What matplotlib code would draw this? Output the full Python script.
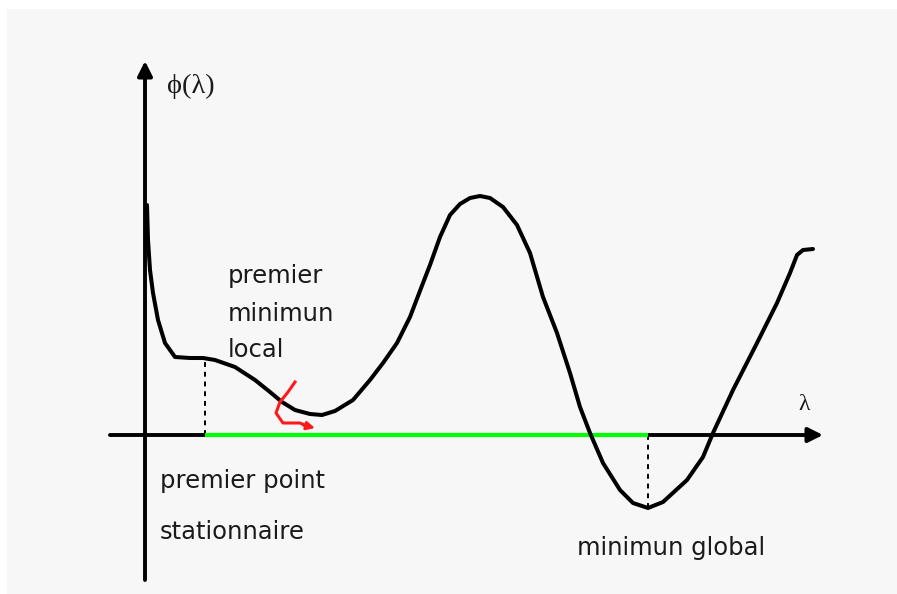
import matplotlib
matplotlib.use("Agg")
import matplotlib.pyplot as plt
from matplotlib.patches import Rectangle

# phi(lambda) sketch: lambda along x, phi along y, origin where the axes cross
lam = [2, 3, 5, 8, 13, 20, 30, 45, 58, 70, 90, 110, 125, 137, 150, 165, 177,
       190, 208, 225, 238, 252, 265, 278, 285, 295, 305, 315, 325, 335, 345,
       358, 372, 385, 398, 412, 425, 435, 445, 458, 475, 488, 503, 518, 542,
       558, 568, 588, 612, 632, 645, 652, 658, 668]
phi = [230, 195, 165, 142, 115, 92, 78, 77, 77, 75, 68, 55, 43, 33, 25, 21, 20,
       24, 35, 55, 72, 92, 118, 152, 170, 198, 220, 231, 237, 239, 237, 228,
       210, 182, 138, 102, 62, 28, 2, -28, -55, -68, -73, -67, -45, -22, 2,
       45, 92, 132, 162, 180, 185, 186]

stationary_lam = 60    # premier point stationnaire
stationary_phi = 77
global_min_lam = 503   # minimun global
global_min_phi = -73

# red hand-drawn hint near the first local minimum
hint_lam = [150, 143, 135, 131, 138, 155, 162]
hint_phi = [53, 43, 33, 22, 12, 12, 9]

fig = plt.figure(figsize=(8.97, 5.94), dpi=100, facecolor="white")
ax = fig.add_axes([0, 0, 1, 1])
ax.set_xlim(-145, 752)
ax.set_ylim(-159, 435)
ax.axis("off")

ax.add_patch(Rectangle((-138, -159), 890, 585, facecolor="#f7f7f7",
                       edgecolor="none", zorder=0))

arrow = dict(arrowstyle="-|>", lw=2.8, color="black", mutation_scale=22,
             shrinkA=0, shrinkB=0)
ax.annotate("", xy=(0, 374), xytext=(0, -145), arrowprops=arrow, zorder=3)
ax.annotate("", xy=(678, 0), xytext=(-35, 0), arrowprops=arrow, zorder=3)

ax.plot([stationary_lam, global_min_lam], [0, 0], color="#00ff00", lw=3,
        solid_capstyle="butt", zorder=4)

ax.plot([stationary_lam, stationary_lam], [0, stationary_phi], color="black",
        lw=1.4, linestyle=(0, (2.5, 2.5)), zorder=2)
ax.plot([global_min_lam, global_min_lam], [0, global_min_phi], color="black",
        lw=1.4, linestyle=(0, (2.5, 2.5)), zorder=2)

ax.plot(lam, phi, color="black", lw=2.9, solid_joinstyle="round",
        solid_capstyle="round", zorder=5)

ax.plot(hint_lam, hint_phi, color="#ff1a1a", lw=2.2, solid_joinstyle="round",
        zorder=6)
ax.annotate("", xy=(170, 7), xytext=(158, 10),
            arrowprops=dict(arrowstyle="-|>", lw=2.0, color="#ff1a1a",
                            mutation_scale=12, shrinkA=0, shrinkB=0),
            zorder=6)

serif = ["Liberation Serif", "DejaVu Serif"]
sans = ["DejaVu Sans"]
tc = "#1a1a1a"

ax.text(22, 342, "ϕ(λ)", family=serif, fontsize=20.5, color=tc, va="baseline")
ax.text(653, 25, "λ", family=serif, fontsize=17, color=tc, va="baseline")

for y, s in [(152, "premier"), (114, "minimun"), (78, "local")]:
    ax.text(83, y, s, family=sans, fontsize=17.5, color=tc, va="baseline")
ax.text(15, -53, "premier point", family=sans, fontsize=17.5, color=tc,
        va="baseline")
ax.text(15, -104, "stationnaire", family=sans, fontsize=17.5, color=tc,
        va="baseline")
ax.text(432, -120, "minimun global", family=sans, fontsize=17.5, color=tc,
        va="baseline")

fig.savefig("out.png", dpi=100, facecolor="white")
